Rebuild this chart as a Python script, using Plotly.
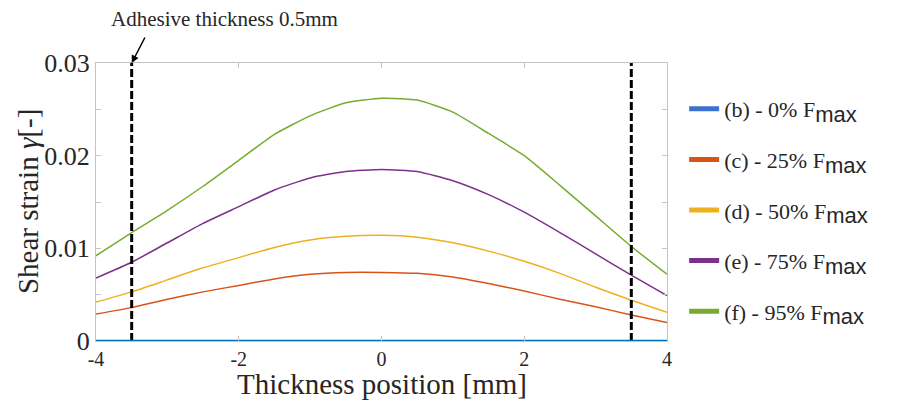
import plotly.graph_objects as go

# ---- data ----
thickness_pos = [-4, -3.5, -3, -2.5, -2, -1.5, -1, -0.5, 0, 0.5, 1, 1.5, 2, 2.5, 3, 3.5, 4]
strain_0 = [0.0] * 17
strain_25 = [0.0029, 0.0036, 0.0045, 0.0053, 0.0060, 0.0067, 0.0072, 0.0074, 0.0074, 0.0073,
             0.0069, 0.0062, 0.0054, 0.0045, 0.0037, 0.0028, 0.0020]
strain_50 = [0.0042, 0.0053, 0.0066, 0.0079, 0.0090, 0.0101, 0.0109, 0.0113, 0.0114, 0.0112,
             0.0106, 0.0097, 0.0086, 0.0073, 0.0058, 0.0044, 0.0031]
strain_75 = [0.0068, 0.0085, 0.0106, 0.0127, 0.0145, 0.0163, 0.0176, 0.0183, 0.0185, 0.0183,
             0.0173, 0.0158, 0.0139, 0.0117, 0.0094, 0.0071, 0.0049]
strain_95 = [0.0092, 0.0117, 0.0141, 0.0167, 0.0195, 0.0223, 0.0243, 0.0257, 0.0262, 0.0260,
             0.0247, 0.0224, 0.0200, 0.0168, 0.0135, 0.0102, 0.0072]
series_names = ["(b) - 0% F", "(c) - 25% F", "(d) - 50% F", "(e) - 75% F", "(f) - 95% F"]
adhesive_edges = [-3.5, 3.5]
x_ticks = [-4, -2, 0, 2, 4]
y_ticks = [0, 0.01, 0.02, 0.03]
y_tick_labels = ["0", "0.01", "0.02", "0.03"]
annotation_text = "Adhesive thickness 0.5mm"
x_title = "Thickness position [mm]"
y_title = "Shear strain <i>γ</i>[-]"

series = [strain_0, strain_25, strain_50, strain_75, strain_95]
line_colors = ["#0072BD", "#D95319", "#EDB120", "#7E2F8E", "#77AC30"]
legend_colors = ["#3b70cf", "#D95319", "#EDB120", "#7E2F8E", "#77AC30"]
widths = [2.5, 1.5, 1.5, 1.5, 1.5]

SERIF = "Liberation Serif, Times New Roman, serif"
TXT = "#262626"
FRAME = "#c4c4c4"

fig = go.Figure()

for ys, c, w in zip(series[1:], line_colors[1:], widths[1:]):
    fig.add_trace(go.Scatter(x=thickness_pos, y=ys, mode="lines",
                             line=dict(color=c, width=w, shape="spline", smoothing=0.5),
                             showlegend=False, hoverinfo="skip"))

for xe in adhesive_edges:
    fig.add_trace(go.Scatter(x=[xe, xe], y=[y_ticks[0], y_ticks[-1]], mode="lines",
                             line=dict(color="black", width=3, dash="8px,3px"),
                             showlegend=False, hoverinfo="skip"))

fig.add_trace(go.Scatter(x=thickness_pos, y=series[0], mode="lines",
                         line=dict(color=line_colors[0], width=widths[0]),
                         showlegend=False, hoverinfo="skip"))

for i, (name, c) in enumerate(zip(series_names, legend_colors)):
    label = (name + "<sub><span style=\"font-family:Liberation Sans;font-size:22px\">"
             "max</span></sub>")
    fig.add_trace(go.Scatter(x=[None], y=[None], mode="lines", name=label,
                             line=dict(color=c, width=5), legendgroup=f"g{i}",
                             showlegend=True))

axis_common = dict(showline=True, linecolor=FRAME, linewidth=1, mirror="ticks",
                   ticks="inside", tickcolor=FRAME, ticklen=5, showgrid=False,
                   zeroline=False)

fig.update_xaxes(range=[-4, 4], tickvals=x_ticks, ticktext=[str(v) for v in x_ticks],
                 tickfont=dict(family=SERIF, size=20, color=TXT), **axis_common)
fig.update_yaxes(range=[0, 0.03], tickvals=y_ticks, ticktext=y_tick_labels,
                 tickfont=dict(family=SERIF, size=26, color=TXT),
                 minor=dict(dtick=0.005, ticks="inside", ticklen=5, tickcolor=FRAME),
                 **axis_common)

# axis titles
fig.add_annotation(x=0.5, y=-0.156, xref="paper", yref="paper", text=x_title,
                   showarrow=False, font=dict(family=SERIF, size=29, color=TXT),
                   xanchor="center", yanchor="middle")
fig.add_annotation(x=-0.119, y=0.5, xref="paper", yref="paper", text=y_title,
                   showarrow=False, textangle=-90,
                   font=dict(family=SERIF, size=29, color=TXT),
                   xanchor="center", yanchor="middle")

# annotation arrow + text
fig.add_annotation(x=adhesive_edges[0], y=y_ticks[-1], xref="x", yref="y", text="",
                   showarrow=True, arrowhead=2, arrowsize=1, arrowwidth=1.5,
                   arrowcolor="black", ax=14, ay=-27, standoff=0)
fig.add_annotation(x=-2.2, y=1.158, xref="x", yref="paper", text=annotation_text,
                   showarrow=False, font=dict(family=SERIF, size=21, color=TXT),
                   xanchor="center", yanchor="middle")

fig.update_layout(
    width=898, height=394,
    margin=dict(l=88, r=239, t=55, b=61, autoexpand=False),
    paper_bgcolor="white", plot_bgcolor="white",
    showlegend=True,
    legend=dict(x=1.03, y=0.91, xanchor="left", yanchor="top",
                font=dict(family=SERIF, size=22, color=TXT),
                tracegroupgap=19, bgcolor="rgba(0,0,0,0)", itemwidth=30),
)

fig.write_html("out.html")
